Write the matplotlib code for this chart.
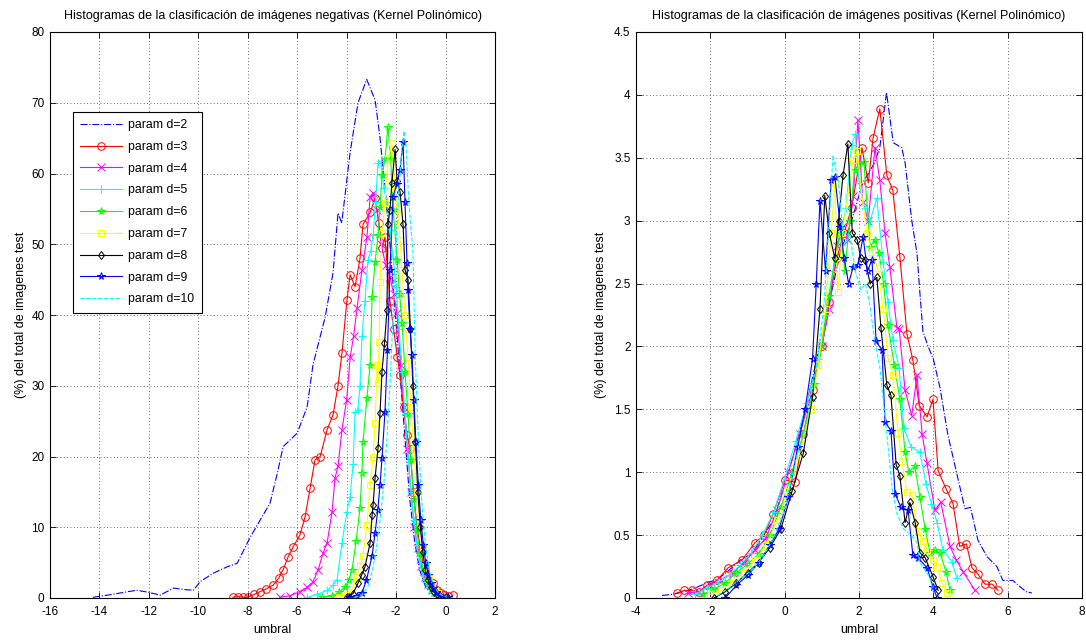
#!/usr/bin/env python3
"""Histogramas de la clasificacion (Kernel Polinomico), negativas y positivas."""

import matplotlib
matplotlib.use('Agg')
import matplotlib.pyplot as plt

plt.rcParams['font.family'] = ['Liberation Sans', 'DejaVu Sans']
plt.rcParams['font.size'] = 9
plt.rcParams['axes.unicode_minus'] = False

LABELS = ['param d=2', 'param d=3', 'param d=4', 'param d=5', 'param d=6',
          'param d=7', 'param d=8', 'param d=9', 'param d=10']

# ---- imagenes negativas ----
NEG_X_D2 = [-14.26, -13.5, -12.5, -12.0, -11.55, -11.0, -10.6, -10.2, -9.93, -9.4, -8.84, -8.43,
            -7.9, -7.5, -7.1, -6.8, -6.57, -6.0, -5.6, -5.36, -4.87, -4.55, -4.35, -4.2, -3.86,
            -3.54, -3.19, -2.85, -2.65, -2.45, -2.25, -2.05, -1.85, -1.65, -1.45, -1.25, -1.05,
            -0.8, -0.5, -0.2]
NEG_Y_D2 = [0.1, 0.5, 1.1, 0.8, 0.4, 1.4, 1.2, 1.1, 2.3, 3.5, 4.4, 4.9, 8.6, 11, 13.4, 17.7, 21.4,
            23.3, 27, 33, 39.7, 46, 54.4, 53, 63, 70, 73.3, 70.4, 65, 58, 50, 41, 32, 23, 14, 8, 4,
            1.5, 0.5, 0.1]
NEG_X_D3 = [-8.6, -8.4, -8.2, -8.0, -7.75, -7.5, -7.25, -6.98, -6.75, -6.57, -6.37, -6.17, -5.89,
            -5.68, -5.48, -5.28, -5.07, -4.79, -4.55, -4.35, -4.19, -3.99, -3.86, -3.66, -3.46,
            -3.34, -3.05, -2.85, -2.7, -2.57, -2.45, -2.25, -2.1, -1.95, -1.84, -1.7, -1.55, -1.44,
            -1.3, -1.15, -1.0, -0.85, -0.7, -0.5, -0.35, -0.2, -0.05, 0.1, 0.3]
NEG_Y_D3 = [0.1, 0.2, 0.1, 0.1, 0.5, 0.9, 1.3, 1.8, 2.8, 4.0, 5.8, 7.2, 8.9, 11.5, 15.5, 19.5, 20.0,
            23.8, 25.9, 30, 34.6, 42.1, 45.7, 44.0, 48.0, 52.8, 54.5, 56.5, 53, 49.5, 51, 42, 38, 34,
            31.5, 27, 23, 21, 15, 10, 6.5, 4.0, 2.5, 2.1, 1.2, 0.7, 0.4, 0.3, 0.4]
NEG_X_D4 = [-6.7, -6.3, -5.9, -5.6, -5.36, -5.15, -4.95, -4.79, -4.59, -4.47, -4.35, -4.19, -4.0,
            -3.86, -3.72, -3.58, -3.38, -3.18, -3.05, -2.93, -2.77, -2.6, -2.42, -2.25, -2.1, -1.96,
            -1.82, -1.68, -1.54, -1.4, -1.26, -1.12, -0.98, -0.84, -0.7, -0.56, -0.42, -0.28, -0.1,
            0.1]
NEG_Y_D4 = [0.1, 0.3, 0.9, 1.5, 2.3, 4.0, 6.4, 7.8, 12.2, 17.0, 18.6, 23.8, 28, 34, 37, 41, 46.4, 51,
            56.7, 57.3, 54.9, 50, 47, 45.4, 43, 40.3, 33, 27, 21, 15, 10, 7, 4.5, 3, 2, 1.2, 0.8, 0.5,
            0.3, 0.2]
NEG_X_D5 = [-5.6, -5.2, -4.79, -4.55, -4.39, -4.19, -3.99, -3.86, -3.74, -3.66, -3.55, -3.46, -3.38,
            -3.26, -3.14, -3.03, -2.93, -2.83, -2.73, -2.62, -2.5, -2.38, -2.25, -2.12, -2.0, -1.88,
            -1.76, -1.64, -1.52, -1.4, -1.28, -1.16, -1.04, -0.92, -0.8, -0.68, -0.56, -0.44, -0.3,
            -0.1, 0.1]
NEG_Y_D5 = [0.1, 0.5, 1.1, 1.8, 2.5, 7.8, 12.2, 14.3, 19, 26.3, 26.6, 30, 37, 42, 47.8, 49, 51.3, 56,
            61.5, 61.7, 58, 56, 52, 48, 44, 38, 32, 26, 20, 15, 11, 7.5, 5, 3.3, 2.2, 1.4, 0.9, 0.6,
            0.4, 0.2, 0.1]
NEG_X_D6 = [-5.0, -4.6, -4.3, -4.05, -3.9, -3.78, -3.62, -3.46, -3.38, -3.34, -3.18, -3.05, -2.97,
            -2.85, -2.73, -2.65, -2.57, -2.45, -2.33, -2.22, -2.12, -1.96, -1.86, -1.76, -1.64,
            -1.52, -1.4, -1.28, -1.16, -1.04, -0.92, -0.8, -0.68, -0.56, -0.44, -0.32, -0.15, 0.05]
NEG_Y_D6 = [0.1, 0.3, 0.8, 1.6, 2.6, 4.0, 8, 12.7, 17.7, 22, 28.3, 33, 42.6, 47.5, 51.3, 55.3, 59.8,
            62, 66.6, 62, 54.9, 47.8, 43, 38.9, 32, 26, 19.5, 14, 9.5, 6.3, 4.2, 2.8, 1.8, 1.1, 0.7,
            0.4, 0.2, 0.1]
NEG_X_D7 = [-4.3, -4.0, -3.8, -3.58, -3.46, -3.34, -3.18, -3.05, -2.93, -2.85, -2.77, -2.73, -2.69,
            -2.65, -2.57, -2.45, -2.33, -2.17, -2.05, -1.94, -1.84, -1.76, -1.64, -1.52, -1.4, -1.28,
            -1.16, -1.04, -0.92, -0.8, -0.68, -0.56, -0.44, -0.3, -0.15, 0.05]
NEG_Y_D7 = [0.1, 0.4, 1.2, 3.0, 4.5, 6.0, 10.3, 16, 20, 24.8, 33, 30.4, 36.2, 44.7, 51.6, 55.9, 62.2,
            64.3, 58, 55, 50.6, 46.4, 40, 34, 27, 21, 15, 10.5, 7, 4.5, 3, 1.9, 1.2, 0.7, 0.3, 0.1]
NEG_X_D8 = [-4.0, -3.75, -3.54, -3.4, -3.26, -3.05, -2.97, -2.93, -2.85, -2.73, -2.65, -2.57, -2.47,
            -2.37, -2.33, -2.25, -2.17, -2.04, -1.96, -1.84, -1.72, -1.64, -1.52, -1.42, -1.32,
            -1.22, -1.12, -1.02, -0.92, -0.82, -0.7, -0.58, -0.46, -0.34, -0.2, 0.0]
NEG_Y_D8 = [0.1, 0.6, 2.1, 3.2, 4.4, 7.8, 11.7, 13.2, 17, 21.2, 26.2, 32, 36, 40.7, 52.8, 54.9, 58.7,
            63.4, 59, 57.4, 52.8, 46.4, 45, 38, 30, 22, 15, 10, 6.5, 4, 2.5, 1.5, 0.9, 0.5, 0.2, 0.1]
NEG_X_D9 = [-3.9, -3.6, -3.38, -3.2, -2.97, -2.85, -2.74, -2.65, -2.57, -2.45, -2.35, -2.25, -2.12,
            -1.98, -1.84, -1.72, -1.64, -1.56, -1.52, -1.44, -1.36, -1.28, -1.2, -1.1, -1.0, -0.9,
            -0.8, -0.7, -0.6, -0.5, -0.38, -0.25, -0.1, 0.1]
NEG_Y_D9 = [0.1, 0.3, 0.7, 2.5, 6.0, 9.2, 12.5, 16, 19.8, 26.3, 35, 46.4, 56.7, 58.5, 60.5, 64.5, 56,
            47.4, 43.6, 38, 34.4, 28, 22, 16, 11, 7.5, 5, 3.3, 2.1, 1.4, 0.8, 0.4, 0.2, 0.1]
NEG_X_D10 = [-3.7, -3.4, -3.15, -2.95, -2.8, -2.65, -2.5, -2.38, -2.25, -2.12, -2.0, -1.88, -1.78,
             -1.68, -1.6, -1.5, -1.42, -1.32, -1.23, -1.14, -1.05, -0.95, -0.85, -0.75, -0.65,
             -0.55, -0.42, -0.3, -0.15, 0.05]
NEG_Y_D10 = [0.1, 0.4, 1.5, 4, 7, 11, 16, 22, 30, 40, 50, 58, 63, 66, 64, 57, 53, 49, 34.6, 26, 19,
             13, 9, 6, 4, 2.5, 1.5, 0.8, 0.4, 0.1]

# ---- imagenes positivas ----
POS_X_D2 = [-3.3, -3.0, -2.7, -2.4, -2.1, -1.8, -1.5, -1.2, -0.9, -0.6, -0.3, 0.0, 0.3, 0.6, 0.9,
            1.2, 1.5, 1.8, 2.1, 2.4, 2.56, 2.74, 2.92, 3.15, 3.24, 3.42, 3.56, 3.64, 3.72, 3.86, 4.0,
            4.18, 4.39, 4.63, 4.85, 5.0, 5.2, 5.44, 5.71, 5.87, 6.14, 6.33, 6.5, 6.65]
POS_Y_D2 = [0.02, 0.03, 0.05, 0.08, 0.12, 0.15, 0.22, 0.3, 0.35, 0.48, 0.62, 0.9, 1.2, 1.55, 1.95,
            2.35, 2.75, 3.0, 3.3, 3.45, 3.58, 4.02, 3.62, 3.58, 3.46, 3.0, 2.74, 2.42, 2.12, 2.0, 1.9,
            1.67, 1.30, 0.99, 0.71, 0.72, 0.46, 0.33, 0.25, 0.14, 0.14, 0.09, 0.05, 0.04]
POS_X_D3 = [-2.9, -2.7, -2.5, -2.3, -2.1, -1.82, -1.52, -1.15, -0.8, -0.55, -0.31, 0.01, 0.28, 0.5,
            0.75, 1.0, 1.2, 1.4, 1.6, 1.8, 2.08, 2.25, 2.38, 2.56, 2.75, 2.91, 3.10, 3.29, 3.45, 3.62,
            3.83, 3.99, 4.13, 4.34, 4.53, 4.71, 4.89, 5.04, 5.2, 5.39, 5.58, 5.74]
POS_Y_D3 = [0.04, 0.06, 0.06, 0.05, 0.1, 0.14, 0.24, 0.3, 0.44, 0.5, 0.67, 0.94, 0.92, 1.3, 1.65,
            2.0, 2.35, 2.7, 2.9, 3.1, 3.58, 3.3, 3.66, 3.89, 3.36, 3.24, 2.71, 2.1, 1.89, 1.53, 1.44,
            1.58, 1.01, 0.87, 0.75, 0.41, 0.43, 0.24, 0.19, 0.11, 0.11, 0.06]
POS_X_D4 = [-2.6, -2.3, -2.0, -1.7, -1.4, -1.1, -0.8, -0.5, -0.2, 0.1, 0.4, 0.7, 1.0, 1.2, 1.4, 1.55,
            1.7, 1.85, 1.97, 2.1, 2.25, 2.43, 2.56, 2.7, 2.83, 3.02, 3.08, 3.24, 3.42, 3.56, 3.7, 3.83,
            4.04, 4.2, 4.45, 4.62, 4.8, 5.12]
POS_Y_D4 = [0.04, 0.05, 0.1, 0.14, 0.2, 0.28, 0.38, 0.48, 0.7, 1.0, 1.3, 1.6, 2.0, 2.3, 2.8, 2.95,
            2.85, 3.2, 3.8, 3.15, 3.0, 3.58, 3.32, 2.9, 2.63, 2.15, 2.14, 1.65, 1.45, 1.77, 1.3, 1.07,
            0.70, 0.76, 0.41, 0.3, 0.21, 0.06]
POS_X_D5 = [-2.4, -2.1, -1.8, -1.5, -1.2, -0.9, -0.6, -0.3, 0.0, 0.3, 0.6, 0.9, 1.1, 1.3, 1.5, 1.65,
            1.8, 1.9, 2.0, 2.15, 2.3, 2.48, 2.65, 2.78, 2.91, 3.08, 3.21, 3.4, 3.64, 3.8, 3.95, 4.1,
            4.26, 4.5, 4.63]
POS_Y_D5 = [0.03, 0.08, 0.12, 0.18, 0.26, 0.36, 0.5, 0.68, 0.95, 1.25, 1.55, 1.9, 2.25, 2.6, 2.9,
            3.1, 3.6, 3.69, 3.3, 3.1, 3.0, 3.18, 2.67, 2.35, 2.05, 1.83, 1.35, 1.2, 1.16, 0.91, 0.75,
            0.6, 0.38, 0.29, 0.16]
POS_X_D6 = [-2.2, -1.9, -1.6, -1.3, -1.0, -0.7, -0.4, -0.1, 0.2, 0.5, 0.8, 1.0, 1.2, 1.35, 1.5,
            1.62, 1.75, 1.88, 2.0, 2.13, 2.3, 2.42, 2.54, 2.66, 2.78, 2.95, 3.1, 3.24, 3.34, 3.5,
            3.64, 3.78, 3.91, 4.05, 4.18, 4.34, 4.45]
POS_Y_D6 = [0.03, 0.07, 0.12, 0.2, 0.27, 0.35, 0.5, 0.72, 1.0, 1.3, 1.7, 2.0, 2.4, 2.7, 2.9, 2.6,
            3.0, 3.4, 3.45, 3.47, 2.79, 2.85, 2.74, 2.5, 2.17, 1.85, 1.58, 1.16, 1.0, 1.05, 0.8, 0.55,
            0.36, 0.38, 0.36, 0.21, 0.06]
POS_X_D7 = [-2.0, -1.7, -1.4, -1.1, -0.8, -0.5, -0.2, 0.1, 0.4, 0.7, 0.9, 1.1, 1.25, 1.35, 1.43,
            1.55, 1.7, 1.84, 1.95, 2.08, 2.21, 2.35, 2.51, 2.65, 2.78, 2.91, 3.05, 3.16, 3.29, 3.42,
            3.59, 3.72, 3.83, 4.0, 4.1, 4.23, 4.37]
POS_Y_D7 = [0.03, 0.06, 0.12, 0.2, 0.3, 0.42, 0.62, 0.85, 1.15, 1.5, 1.85, 2.3, 2.9, 3.3, 2.43, 2.9,
            3.2, 3.48, 3.55, 3.2, 2.9, 2.75, 2.62, 2.3, 1.91, 1.77, 1.31, 1.09, 0.84, 0.82, 0.53, 0.45,
            0.38, 0.3, 0.25, 0.12, 0.04]
POS_X_D8 = [-1.9, -1.6, -1.3, -1.0, -0.7, -0.4, -0.1, 0.2, 0.5, 0.75, 0.95, 1.08, 1.2, 1.35, 1.45,
            1.57, 1.7, 1.82, 1.95, 2.05, 2.16, 2.3, 2.48, 2.59, 2.75, 2.86, 3.0, 3.1, 3.24, 3.37,
            3.51, 3.64, 3.78, 3.99, 4.13]
POS_Y_D8 = [0.0, 0.05, 0.12, 0.2, 0.28, 0.4, 0.55, 0.85, 1.15, 1.6, 2.3, 3.2, 2.9, 2.7, 3.0, 3.36,
            3.61, 2.9, 2.85, 2.7, 2.69, 2.5, 2.55, 2.15, 1.69, 1.61, 1.06, 0.97, 0.6, 0.76, 0.6, 0.36,
            0.32, 0.17, 0.06]
POS_X_D9 = [-1.6, -1.3, -1.0, -0.7, -0.4, -0.15, 0.1, 0.35, 0.55, 0.75, 0.85, 0.95, 1.1, 1.25, 1.35,
            1.5, 1.6, 1.72, 1.84, 1.97, 2.11, 2.23, 2.35, 2.46, 2.62, 2.7, 2.86, 2.97, 3.13, 3.32,
            3.45, 3.59, 3.83, 3.99, 4.1]
POS_Y_D9 = [0.0, 0.1, 0.18, 0.28, 0.42, 0.55, 0.8, 1.2, 1.5, 1.9, 2.5, 3.16, 2.6, 3.32, 3.35, 2.95,
            2.7, 2.5, 2.63, 2.65, 2.87, 2.6, 2.69, 2.04, 1.97, 1.4, 1.33, 0.83, 0.72, 0.7, 0.34, 0.32,
            0.24, 0.09, 0.0]
POS_X_D10 = [-1.8, -1.5, -1.2, -0.9, -0.6, -0.3, 0.0, 0.3, 0.6, 0.85, 1.05, 1.2, 1.3, 1.45, 1.6,
             1.75, 1.9, 2.05, 2.17, 2.29, 2.42, 2.56, 2.68, 2.8, 2.89, 3.02, 3.2, 3.4, 3.56, 3.64,
             3.78, 3.91, 3.99]
POS_Y_D10 = [0.02, 0.08, 0.15, 0.22, 0.32, 0.48, 0.7, 1.1, 1.4, 1.85, 2.3, 3.0, 3.52, 3.3, 2.8, 2.9,
             2.6, 2.45, 2.5, 2.33, 2.05, 1.84, 1.5, 1.15, 0.88, 0.67, 0.55, 0.5, 0.44, 0.28, 0.22,
             0.16, 0.06]

NEG_SERIES = [(NEG_X_D2, NEG_Y_D2), (NEG_X_D3, NEG_Y_D3), (NEG_X_D4, NEG_Y_D4),
              (NEG_X_D5, NEG_Y_D5), (NEG_X_D6, NEG_Y_D6), (NEG_X_D7, NEG_Y_D7),
              (NEG_X_D8, NEG_Y_D8), (NEG_X_D9, NEG_Y_D9), (NEG_X_D10, NEG_Y_D10)]
POS_SERIES = [(POS_X_D2, POS_Y_D2), (POS_X_D3, POS_Y_D3), (POS_X_D4, POS_Y_D4),
              (POS_X_D5, POS_Y_D5), (POS_X_D6, POS_Y_D6), (POS_X_D7, POS_Y_D7),
              (POS_X_D8, POS_Y_D8), (POS_X_D9, POS_Y_D9), (POS_X_D10, POS_Y_D10)]

# MATLAB-like line specs: color, linestyle, marker
STYLES = [
    ('#0000ff', '-.', ''),
    ('#ff0000', '-', 'o'),
    ('#ff00ff', '-', 'x'),
    ('#00ffff', '-', '+'),
    ('#00ff00', '-', '*'),
    ('#ffff00', '-', 's'),
    ('#000000', '-', 'd'),
    ('#0000ff', '-', '*'),
    ('#00ffff', '--', ''),
]


def style_axes(ax, xlim, xticks, ylim, yticks):
    ax.set_xlim(*xlim)
    ax.set_ylim(*ylim)
    ax.set_xticks(xticks)
    ax.set_yticks(yticks)
    ax.tick_params(direction='in', length=4, width=0.6, top=True, right=True,
                   labelsize=8.5)
    ax.tick_params(axis='x', pad=6)
    ax.tick_params(axis='y', pad=4)
    ax.grid(True, color='#333333', linestyle=(0, (1, 3)), linewidth=0.6)
    for sp in ax.spines.values():
        sp.set_linewidth(0.8)
        sp.set_color('black')


def draw(ax, series):
    handles = []
    for (xs, ys), (color, ls, mk), lab in zip(series, STYLES, LABELS):
        ms = 5.5
        if mk == 'd':
            ms = 4.5
        elif mk == 's':
            ms = 5
        h, = ax.plot(xs, ys, color=color, linestyle=ls, marker=mk if mk else None,
                     markersize=ms, markerfacecolor='none', markeredgecolor=color,
                     markeredgewidth=0.7, linewidth=0.8, label=lab)
        handles.append(h)
    return handles


fig = plt.figure(figsize=(10.86, 6.41), dpi=100)
ax1 = fig.add_axes([50 / 1086, 43 / 641, 445 / 1086, 566 / 641])
ax2 = fig.add_axes([636 / 1086, 43 / 641, 446 / 1086, 566 / 641])

handles = draw(ax1, NEG_SERIES)
style_axes(ax1, (-16, 2), range(-16, 3, 2), (0, 80), range(0, 81, 10))
ax1.set_title('Histogramas de la clasificación de imágenes negativas (Kernel Polinómico)',
              fontsize=9, pad=9)
ax1.set_xlabel('umbral', fontsize=9, labelpad=4)
ax1.set_ylabel('(%) del total de imagenes test', fontsize=9, labelpad=3)
leg = ax1.legend(handles=handles, loc='upper left', bbox_to_anchor=(0.052, 0.859),
                 fontsize=8.8, frameon=True, fancybox=False, framealpha=1,
                 edgecolor='black', handlelength=3.4, labelspacing=0.8,
                 borderpad=0.6, handletextpad=0.5, borderaxespad=0)
leg.get_frame().set_linewidth(0.8)

draw(ax2, POS_SERIES)
style_axes(ax2, (-4, 8), range(-4, 9, 2), (0, 4.5),
           [0, 0.5, 1, 1.5, 2, 2.5, 3, 3.5, 4, 4.5])
ax2.set_yticklabels(['0', '0.5', '1', '1.5', '2', '2.5', '3', '3.5', '4', '4.5'])
ax2.set_title('Histogramas de la clasificación de imágenes positivas (Kernel Polinómico)',
              fontsize=9, pad=9)
ax2.set_xlabel('umbral', fontsize=9, labelpad=4)
ax2.set_ylabel('(%) del total de imagenes test', fontsize=9, labelpad=5)

fig.savefig('out.png', dpi=100, facecolor='white')
